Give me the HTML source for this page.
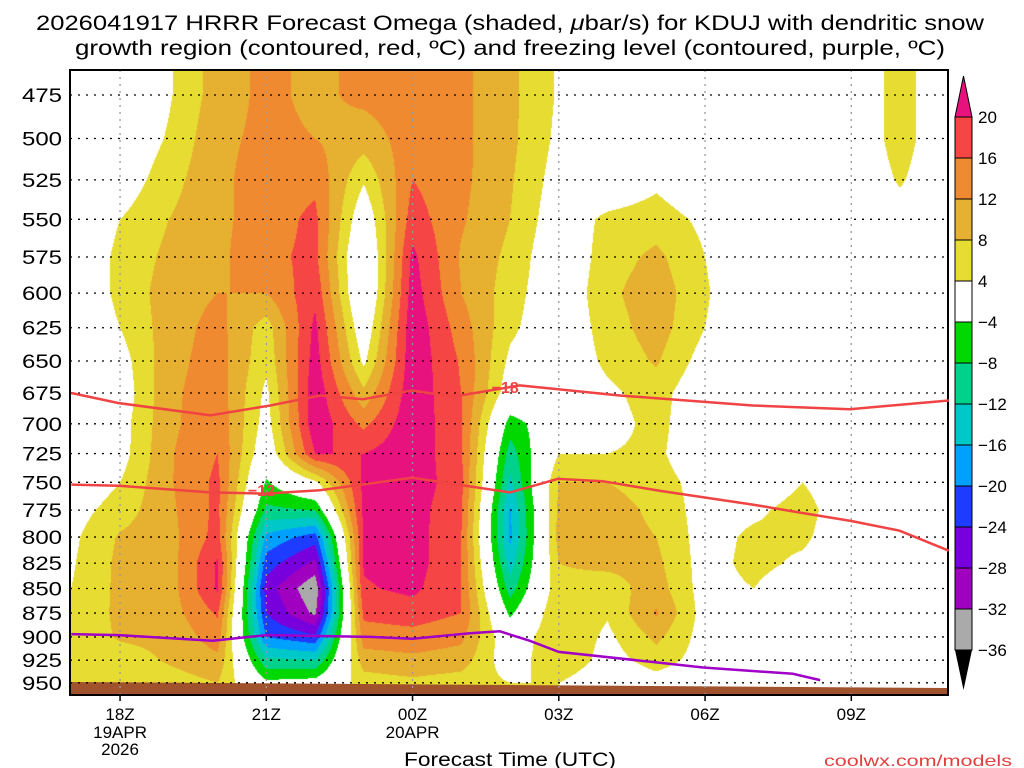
<!DOCTYPE html>
<html><head><meta charset="utf-8"><title>HRRR Omega KDUJ</title>
<style>
body{margin:0;width:1024px;height:768px;background:#fff;position:relative;overflow:hidden;font-family:"Liberation Sans","DejaVu Sans",sans-serif}
#field{position:absolute;left:70px;top:70px}
#chart{position:absolute;left:0;top:0}
</style></head>
<body>
<canvas id="field" width="878" height="625"></canvas>
<svg id="chart" width="1024" height="768">
  <g id="title" font-size="21" fill="#000" text-anchor="middle">
    <text x="510" y="30" textLength="948" lengthAdjust="spacingAndGlyphs">2026041917 HRRR Forecast Omega (shaded, <tspan font-style="italic">μ</tspan>bar/s) for KDUJ with dendritic snow</text>
    <text x="510" y="55" textLength="870" lengthAdjust="spacingAndGlyphs">growth region (contoured, red, ºC) and freezing level (contoured, purple, ºC)</text>
  </g>
  <g id="grid"></g>
  <rect x="70" y="70" width="878" height="625" fill="none" stroke="#000" stroke-width="2"/>
  <g id="yaxis"></g>
  <g id="xaxis"></g>
  <text x="510" y="766" font-size="19" text-anchor="middle" textLength="212" lengthAdjust="spacingAndGlyphs">Forecast Time (UTC)</text>
  <text x="1012" y="766" font-size="16" fill="#e04040" text-anchor="end" textLength="188" lengthAdjust="spacingAndGlyphs">coolwx.com/models</text>
  <g id="colorbar"></g>
  <g id="lines"></g>
</svg>
<script>
// ---- data ----
const hours = [0,1,2,3,4,5,6,7,8,9,10,11,12,13,14,15,16,17,18];
const timeTickHours = [1,4,7,10,13,16];
const timeTickLabels = ['18Z','21Z','00Z','03Z','06Z','09Z'];
const levels = [475,500,525,550,575,600,625,650,675,700,725,750,775,800,825,850,875,900,925,950];
const colorLevels = [20,16,12,8,4,-4,-8,-12,-16,-20,-24,-28,-32,-36];
// omega by forecast hour (each row = one hour, values from 475 to 950 mb)
const omega = [
 [0,0,0,0,0,0,0,0,0,0,0,0,2,3,3.5,4,4.5,5,5,4],
 [-1,-0.5,1,4,5,5,4,2,1,2,2,4,6,8.5,9,9,9,8.5,6,5],
 [3.5,4.5,6.5,8,9,10,10,10.5,11,11,11.5,11.5,11,10.5,10,10,10,9,8.5,6],
 [10,11,11,11,11,12,13.5,14,14.5,15,16,17,17,17.5,20.5,20.5,16.5,14,11,8],
 [13,13,14,14,15,12,6,5,3,2,0,-4.5,-9,-17,-22,-26,-24,-20,-11,-3],
 [11,12,15,17,17,19,21,22,23,23,20,3,-8,-22,-29,-35.5,-33,-23,-12,-2],
 [13,10,4.5,0,-3,-3,0,3,9,15,20,21,21,20.5,20.5,19.5,17,14,10,6],
 [14,14,16,18,21,22,23,23,23,23,23,23,22,22,22,21,18,14.5,11,7],
 [13,13,13,12.5,11.5,12,14,15.5,16,16.5,16.5,17,16.5,16,16,16,16,13,10,6],
 [9,9,8.5,8,7,6,5,3,1,-6,-10,-13,-16.5,-17,-14,-10,-5,0,1,4],
 [3.5,3,2,1,0,0,0,0,0,0,4,8,9,9.5,8,7,8,8,8,4],
 [0,0,0,5,6,7,6,5,3,2,4,8,10,10,9,6,4.5,3,2,0],
 [0,0,3,6,9,10.5,10,8.5,6,5.5,5,6,7,8,9,10,12.5,9,6,2],
 [0,0,0,3,4,4.5,4,2,0,0,0,2,2,2,2,2,2,2,2,0],
 [0,0,0,0,0,0,0,0,0,0,0,0,3,5,5.5,4,0,0,0,0],
 [0,0,0,0,0,0,0,0,0,0,0,4,6,5,3,0,0,0,0,0],
 [0,0,0,0,0,0,0,0,0,0,0,0,0,0,0,0,0,0,0,0],
 [6,6,4.5,2,0,0,0,0,0,0,0,0,0,0,0,0,0,0,0,0],
 [0,0,0,0,0,0,0,0,0,0,0,0,0,0,0,0,0,0,0,0]
];
// dendritic growth contours and freezing level: hours and pressures
const minus18Hours = [0,0.96,2.85,4.08,5.1,5.98,6.99,7.83,9.2,11.25,13.98,15.97,18];
const minus18Press = [675,683,693,685,677,680,673,678,669,677,685,688,681];
const minus12Hours = [0,0.96,2.85,3.97,5.1,6.99,9.0,9.98,10.9,12.08,13.98,15.0,16.0,16.99,18];
const minus12Press = [752,753,759,760,757,746,759,747,749,757.6,770,777.6,785,794,813];
const freezeHours = [0,0.96,2.9,4,6.13,7,8.18,8.79,9.4,10,11.93,12.96,14.8,15.36];
const freezePress = [897,898,904,898,900,902,896,894,904,916,927,933,940,947];

// ---- scales ----
const X0 = 71.3, HPX = 48.75;
function xOf(h){ return X0 + h*HPX; }
function yOf(p){ return 95 + 848*Math.log(p/475); }
function pOfY(y){ return 475*Math.exp((y-95)/848); }

const binColors = [
 [232,18,127],[245,69,69],[240,138,48],[230,176,48],[230,220,50],[255,255,255],
 [0,216,0],[0,210,140],[0,200,200],[0,160,255],[30,60,255],[120,0,220],[160,0,192],[170,170,170],[0,0,0]
];
function colorFor(v){
  for(let i=0;i<colorLevels.length;i++){
    if(i<5){ if(v>=colorLevels[i]) return binColors[i]; }
    else if(i===5){ if(v>-4) return binColors[5]; }
    else { if(v>colorLevels[i]) return binColors[i]; }
  }
  return binColors[14];
}

// ---- shaded field ----
(function(){
  const cv=document.getElementById('field'); const ctx=cv.getContext('2d');
  const W=cv.width,H=cv.height; const img=ctx.createImageData(W,H);
  const nh=hours.length, nl=levels.length;
  const lv0=levels[0], dl=levels[1]-levels[0];
  for(let py=0;py<H;py++){
    const p=pOfY(70+py+0.5);
    let fi=(p-lv0)/dl; fi=Math.max(0,Math.min(nl-1,fi));
    const i0=Math.min(nl-2,Math.floor(fi)), ti=fi-i0;
    for(let px=0;px<W;px++){
      let fh=(70+px+0.5-X0)/HPX; fh=Math.max(0,Math.min(nh-1,fh));
      const j0=Math.min(nh-2,Math.floor(fh)), tj=fh-j0;
      const a=omega[j0][i0],b=omega[j0+1][i0],c=omega[j0][i0+1],d=omega[j0+1][i0+1];
      const v=(a*(1-tj)+b*tj)*(1-ti)+(c*(1-tj)+d*tj)*ti;
      const col=colorFor(v); const k=(py*W+px)*4;
      img.data[k]=col[0];img.data[k+1]=col[1];img.data[k+2]=col[2];img.data[k+3]=255;
    }
  }
  ctx.putImageData(img,0,0);
})();

const NS='http://www.w3.org/2000/svg';
function mk(tag,attrs,parent){const e=document.createElementNS(NS,tag);for(const k in attrs)e.setAttribute(k,attrs[k]);parent.appendChild(e);return e;}

// terrain
const linesG=document.getElementById('lines');
const terrain=mk('polygon',{points:'70,682 948,688 948,694 70,694',fill:'#a0522d'},document.getElementById('grid'));



// gridlines
const gridG=document.getElementById('grid');
levels.forEach(function(p){
  const y=yOf(p);
  const l=mk('line',{x1:70,x2:948,y1:y,y2:y,stroke:'#000','stroke-width':1.3,'stroke-dasharray':'2 6'},gridG);
  
  
});
timeTickHours.forEach(function(h,i){
  const x=xOf(h);
  const l=mk('line',{x1:x,x2:x,y1:70,y2:695,stroke:'#999','stroke-width':1.3,'stroke-dasharray':'2 5'},gridG);
  
  
});

// y axis
const yG=document.getElementById('yaxis');
levels.forEach(function(p){
  const t=mk('text',{x:62,y:yOf(p)+7,'font-size':19,'text-anchor':'end',textLength:40,lengthAdjust:'spacingAndGlyphs'},yG);
  t.textContent=p;
  
  
});

// x axis
const xG=document.getElementById('xaxis');
timeTickHours.forEach(function(h,i){
  const x=xOf(h);
  const tk=mk('line',{x1:x,x2:x,y1:695,y2:701,stroke:'#000','stroke-width':1.5},xG);
  
  
  const t=mk('text',{x:x,y:720,'font-size':17,'text-anchor':'middle'},xG);
  t.textContent=timeTickLabels[i];
  
  
});
[[1,'19APR',738],[1,'2026',755],[7,'20APR',738]].forEach(function(d){
  const t=mk('text',{x:xOf(d[0]),y:d[2],'font-size':17,'text-anchor':'middle'},xG);
  t.textContent=d[1];
  
  
});

// contour lines
function pathFrom(hs,ps){return hs.map(function(h,i){return (i?'L':'M')+xOf(h).toFixed(1)+','+yOf(ps[i]).toFixed(1);}).join(' ');}
const l18=mk('path',{d:pathFrom(minus18Hours,minus18Press),fill:'none',stroke:'#f04444','stroke-width':2.5},linesG);


const l12=mk('path',{d:pathFrom(minus12Hours,minus12Press),fill:'none',stroke:'#f04444','stroke-width':2.5},linesG);


const lf=mk('path',{d:pathFrom(freezeHours,freezePress),fill:'none',stroke:'#a000c8','stroke-width':2.5},linesG);


const t18=mk('text',{x:xOf(8.9),y:yOf(671)+5,'font-size':16,'font-weight':'bold',fill:'#f04444','text-anchor':'middle'},linesG);
t18.textContent='−18';


const t12=mk('text',{x:xOf(3.9),y:yOf(757)+6,'font-size':16,'font-weight':'bold',fill:'#f04444','text-anchor':'middle'},linesG);
t12.textContent='−12';



// colorbar
const cbG=document.getElementById('colorbar');
const cbX=955,cbW=17,cbTop=117,cbStep=41;
const cbUpTri=mk('polygon',{points:cbX+','+cbTop+' '+(cbX+cbW)+','+cbTop+' '+(cbX+cbW/2)+',76',fill:'rgb(232,18,127)',stroke:'#000','stroke-width':1},cbG);


for(let i=1;i<14;i++){
  const c=binColors[i];
  const r=mk('rect',{x:cbX,y:cbTop+(i-1)*cbStep,width:cbW,height:cbStep,fill:'rgb('+c.join(',')+')',stroke:'#000','stroke-width':1},cbG);
  
  
}
const cbBotY=cbTop+13*cbStep;
const cbDownTri=mk('polygon',{points:cbX+','+cbBotY+' '+(cbX+cbW)+','+cbBotY+' '+(cbX+cbW/2)+','+(cbBotY+40),fill:'#000'},cbG);


colorLevels.forEach(function(v,i){
  const t=mk('text',{x:978,y:cbTop+i*cbStep+6,'font-size':17},cbG);
  t.textContent=v<0?'−'+(-v):String(v);
  
  
});
</script>
</body></html>
